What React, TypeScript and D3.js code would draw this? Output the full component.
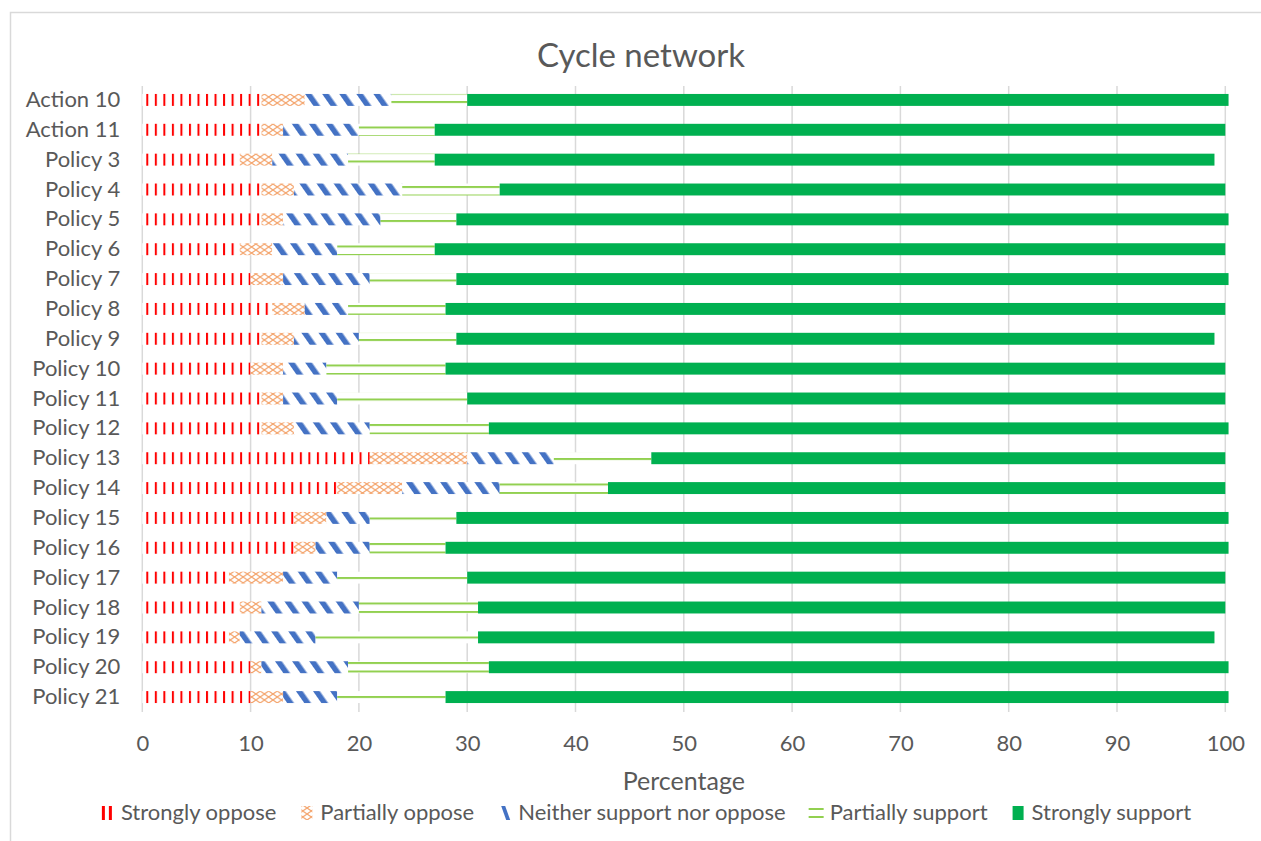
import React, { useRef, useEffect } from "react";
import * as d3 from "d3";

const categories = [
  "Action 10", "Action 11", "Policy 3", "Policy 4", "Policy 5", "Policy 6", "Policy 7",
  "Policy 8", "Policy 9", "Policy 10", "Policy 11", "Policy 12", "Policy 13", "Policy 14",
  "Policy 15", "Policy 16", "Policy 17", "Policy 18", "Policy 19", "Policy 20", "Policy 21",
];
const stronglyOppose = [11, 11, 9, 11, 11, 9, 10, 12, 11, 10, 11, 11, 21, 18, 14, 14, 8, 9, 8, 10, 10];
const partiallyOppose = [4, 2, 3, 3, 2, 3, 3, 3, 3, 3, 2, 3, 9, 6, 3, 2, 5, 2, 1, 1, 3];
const neitherSupportNorOppose = [8, 7, 7, 10, 9, 6, 8, 4, 6, 4, 5, 7, 8, 9, 4, 5, 5, 9, 7, 8, 5];
const partiallySupport = [7, 7, 8, 9, 7, 9, 8, 9, 9, 11, 12, 11, 9, 10, 8, 7, 12, 11, 15, 13, 10];
const stronglySupport = [70.3, 73, 72, 67, 71.3, 73, 71.3, 72, 70, 72, 70, 68.3, 53, 57, 71.3, 72.3, 70, 69, 68, 68.3, 72.3];

const seriesNames = ["Strongly oppose", "Partially oppose", "Neither support nor oppose", "Partially support", "Strongly support"];
const xTicks = [0, 10, 20, 30, 40, 50, 60, 70, 80, 90, 100];

const App = () => {
  const svgRef = useRef(null);

  useEffect(() => {
    const svg = d3.select(svgRef.current);
    svg.selectAll("*").remove();

    const font = "Lato, 'Open Sans', sans-serif";
    const textColor = "#595959";
    const plotLeft = 142.3;
    const plotRight = 1225.3;
    const plotTop = 85;
    const plotBottom = 712;

    const rows = categories.map((c, i) => ({
      category: c,
      "Strongly oppose": stronglyOppose[i],
      "Partially oppose": partiallyOppose[i],
      "Neither support nor oppose": neitherSupportNorOppose[i],
      "Partially support": partiallySupport[i],
      "Strongly support": stronglySupport[i],
    }));
    const stacked = d3.stack().keys(seriesNames)(rows);

    const x = d3.scaleLinear().domain([0, 100]).range([plotLeft, plotRight]);
    const y = d3.scaleBand().domain(categories).range([plotTop, plotBottom]).paddingInner(0.6).paddingOuter(0.3);

    // patterns
    const defs = svg.append("defs");
    const pRed = defs.append("pattern").attr("id", "p-red").attr("patternUnits", "userSpaceOnUse")
      .attr("x", 146.3).attr("y", 0).attr("width", 8.53).attr("height", 20);
    pRed.append("rect").attr("width", 8.53).attr("height", 20).attr("fill", "#fff");
    pRed.append("rect").attr("width", 2).attr("height", 20).attr("fill", "#ff0000");

    const pOrange = defs.append("pattern").attr("id", "p-orange").attr("patternUnits", "userSpaceOnUse")
      .attr("x", 0).attr("y", 94).attr("width", 8.53).attr("height", 6);
    pOrange.append("rect").attr("width", 8.53).attr("height", 6).attr("fill", "#fff");
    pOrange.append("path").attr("d", "M0,0L8.53,6M8.53,0L0,6")
      .attr("stroke", "#f4a46c").attr("stroke-width", 1.2).attr("fill", "none");

    const pBlue = defs.append("pattern").attr("id", "p-blue").attr("patternUnits", "userSpaceOnUse")
      .attr("width", 14).attr("height", 14).attr("patternTransform", "rotate(-35)");
    pBlue.append("rect").attr("width", 14).attr("height", 14).attr("fill", "#fff");
    pBlue.append("rect").attr("width", 5.5).attr("height", 14).attr("fill", "#4472c4");

    const pGreen = defs.append("pattern").attr("id", "p-green").attr("patternUnits", "userSpaceOnUse")
      .attr("x", 0).attr("y", 101).attr("width", 20).attr("height", 8.5);
    pGreen.append("rect").attr("width", 20).attr("height", 8.5).attr("fill", "#fff");
    pGreen.append("rect").attr("width", 20).attr("height", 2).attr("fill", "#92d050");

    const fills = ["url(#p-red)", "url(#p-orange)", "url(#p-blue)", "url(#p-green)", "#00b050"];

    // chart border
    svg.append("rect").attr("x", 10.5).attr("y", 12.5).attr("width", 1300).attr("height", 900)
      .attr("fill", "#fff").attr("stroke", "#d9d9d9").attr("stroke-width", 1.5);

    // gridlines
    svg.append("g").selectAll("line").data(xTicks).join("line")
      .attr("x1", d => x(d)).attr("x2", d => x(d))
      .attr("y1", plotTop + 1).attr("y2", plotBottom)
      .attr("stroke", "#d9d9d9").attr("stroke-width", 1.5);

    // bars
    svg.append("g").selectAll("g").data(stacked).join("g")
      .attr("fill", (d, i) => fills[i])
      .selectAll("rect").data(d => d).join("rect")
      .attr("x", d => x(d[0]))
      .attr("y", d => y(d.data.category))
      .attr("width", d => x(d[1]) - x(d[0]))
      .attr("height", y.bandwidth());

    // axes
    svg.append("g")
      .attr("transform", `translate(0,${plotBottom})`)
      .call(d3.axisBottom(x).tickValues(xTicks).tickSize(0).tickPadding(23))
      .call(g => g.select(".domain").remove())
      .call(g => g.selectAll("text").attr("fill", textColor).style("font-family", font).style("font-size", "22px"));

    svg.append("g")
      .attr("transform", `translate(${plotLeft},0)`)
      .call(d3.axisLeft(y).tickSize(0).tickPadding(22))
      .call(g => g.select(".domain").remove())
      .call(g => g.selectAll("text").attr("fill", textColor).style("font-family", font).style("font-size", "22px"));

    // title + axis title
    svg.append("text").attr("x", 641).attr("y", 66.5).attr("text-anchor", "middle")
      .attr("fill", textColor).style("font-family", font).style("font-size", "33px").text("Cycle network");
    svg.append("text").attr("x", (plotLeft + plotRight) / 2).attr("y", 790).attr("text-anchor", "middle")
      .attr("fill", textColor).style("font-family", font).style("font-size", "25px").text("Percentage");

    // legend
    const legend = svg.append("g");
    const items = seriesNames.map(name => {
      const g = legend.append("g");
      const t = g.append("text").attr("y", 820).attr("fill", textColor)
        .style("font-family", font).style("font-size", "22px").text(name);
      return { g, t, w: t.node().getComputedTextLength() };
    });
    const swatchW = 11, gapText = 8, gapItem = 25;
    const total = d3.sum(items, d => swatchW + gapText + d.w) + gapItem * (items.length - 1);
    let cx = 646.5 - total / 2;
    items.forEach((it, i) => {
      const sx = cx;
      const sy = 806;
      if (i === 0) {
        it.g.append("rect").attr("x", sx).attr("y", sy).attr("width", 3).attr("height", 14).attr("fill", "#ff0000");
        it.g.append("rect").attr("x", sx + 7).attr("y", sy).attr("width", 3).attr("height", 14).attr("fill", "#ff0000");
      } else if (i === 1) {
        it.g.append("rect").attr("x", sx).attr("y", sy).attr("width", swatchW).attr("height", 14).attr("fill", "url(#p-orange)");
      } else if (i === 2) {
        it.g.append("path").attr("d", `M${sx + 2},${sy}L${sx + 6},${sy}L${sx + 11},${sy + 14}L${sx + 7},${sy + 14}Z`).attr("fill", "#4472c4");
      } else if (i === 3) {
        it.g.append("rect").attr("x", sx - 2).attr("y", sy + 2).attr("width", 15).attr("height", 2).attr("fill", "#92d050");
        it.g.append("rect").attr("x", sx - 2).attr("y", sy + 10).attr("width", 15).attr("height", 2).attr("fill", "#92d050");
      } else {
        it.g.append("rect").attr("x", sx).attr("y", sy).attr("width", swatchW).attr("height", 14).attr("fill", "#00b050");
      }
      it.t.attr("x", sx + swatchW + gapText);
      cx += swatchW + gapText + it.w + gapItem;
    });
  }, []);

  return (
    <svg
      ref={svgRef}
      width={1261}
      height={841}
      style={{ position: "absolute", left: 0, top: 0, background: "#fff" }}
    />
  );
};

export default App;
